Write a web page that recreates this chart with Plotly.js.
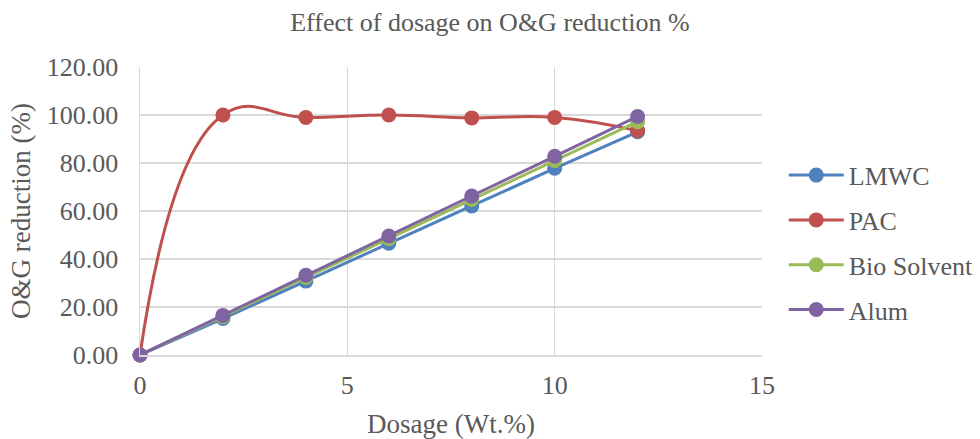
<!DOCTYPE html>
<html>
<head>
<meta charset="utf-8">
<script src="https://cdn.plot.ly/plotly-3.0.1.min.js"></script>
<style>html,body{margin:0;padding:0;background:#fff;}#chart{width:980px;height:439px;}</style>
</head>
<body>
<div id="chart"></div>
<script>
const dosage = [0, 2, 4, 6, 8, 10, 12];
const lmwc = [0, 15.2, 30.8, 46.6, 62.1, 77.8, 93.0];
const pac = [0, 100.0, 99.0, 100.0, 98.8, 99.0, 93.5];
const bioSolvent = [0, 16.0, 32.3, 48.5, 64.8, 81.0, 97.2];
const alum = [0, 16.5, 33.2, 49.6, 66.2, 82.8, 99.4];
const seriesNames = ["LMWC", "PAC", "Bio Solvent", "Alum"];
const seriesColors = ["#4F81BD", "#C0504D", "#9BBB59", "#8064A2"];
const yTickVals = [0, 20, 40, 60, 80, 100, 120];
const yTickText = ["0.00", "20.00", "40.00", "60.00", "80.00", "100.00", "120.00"];
const xTickVals = [0, 5, 10, 15];

const font = "Liberation Serif";
const allY = [lmwc, pac, bioSolvent, alum];
const traces = allY.map((y, i) => ({
  x: dosage, y: y, name: seriesNames[i], type: "scatter", mode: "lines+markers",
  legendgroup: "g" + i, cliponaxis: false,
  line: {color: seriesColors[i], width: 3, shape: i === 1 ? "spline" : "linear", smoothing: 1.3},
  marker: {color: seriesColors[i], size: 15}
}));

const layout = {
  width: 980, height: 439,
  margin: {l: 140, r: 218, t: 67, b: 84, autoexpand: false},
  paper_bgcolor: "#fff", plot_bgcolor: "#fff",
  font: {family: font, color: "#595959", size: 26},
  title: {text: "Effect of dosage on O&G reduction %", font: {family: font, size: 26, color: "#595959"}, x: 0.5, xref: "container", xanchor: "center", y: 0.95, yanchor: "middle"},
  xaxis: {
    range: [0, 15], tickvals: xTickVals, showgrid: true, gridcolor: "#d9d9d9", gridwidth: 1.5,
    zeroline: false, showline: true, linecolor: "#d9d9d9", linewidth: 1.5,
    ticks: "", ticklabelstandoff: 6, tickfont: {size: 26, family: font, color: "#595959"},
    title: {text: "Dosage (Wt.%)", font: {size: 27, family: font, color: "#595959"}, standoff: 16}
  },
  yaxis: {
    range: [0, 120], tickvals: yTickVals, ticktext: yTickText, showgrid: true, gridcolor: "#d9d9d9", gridwidth: 1.5,
    zeroline: false, showline: true, linecolor: "#d9d9d9", linewidth: 1.5,
    ticks: "", ticklabelstandoff: 15, tickfont: {size: 26, family: font, color: "#595959"},
    title: {text: "O&G reduction (%)", font: {size: 27, family: font, color: "#595959"}, standoff: 8}
  },
  showlegend: true,
  legend: {x: 1.035, y: 0.39, xanchor: "left", yanchor: "middle", font: {size: 26, family: font, color: "#595959"}, tracegroupgap: 8, itemwidth: 55, bgcolor: "rgba(0,0,0,0)"}
};
Plotly.newPlot("chart", traces, layout, {displayModeBar: false, staticPlot: true});
</script>
</body>
</html>
